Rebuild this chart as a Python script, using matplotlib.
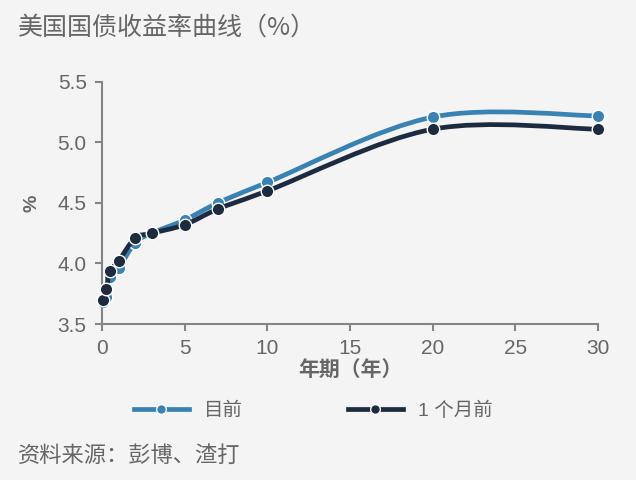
import matplotlib
matplotlib.use("Agg")
import matplotlib.pyplot as plt
from matplotlib.path import Path
from matplotlib.patches import PathPatch
from matplotlib.lines import Line2D
import numpy as np

plt.rcParams['font.family'] = ['Liberation Sans', 'Noto Sans CJK SC', 'DejaVu Sans']

# ---- data ----
maturities = [1/12, 0.25, 0.5, 1, 2, 3, 5, 7, 10, 20, 30]
current = [3.68, 3.72, 3.89, 3.96, 4.17, 4.25, 4.36, 4.50, 4.67, 5.21, 5.22]
month_ago = [3.70, 3.79, 3.94, 4.02, 4.21, 4.25, 4.32, 4.45, 4.60, 5.11, 5.11]
series_names = ["目前", "1 个月前"]
xticks = [0, 5, 10, 15, 20, 25, 30]
yticks = [3.5, 4.0, 4.5, 5.0, 5.5]
title = "美国国债收益率曲线（%）"
xlabel = "年期（年）"
ylabel = "%"
source = "资料来源：彭博、渣打"

c_light = "#3982b4"
c_dark = "#1c2b3f"
gray = "#666666"
bg = "#f4f4f4"


def smooth_path(x, y):
    # Excel-style smoothed line: cubic Bezier through the points
    pts = np.column_stack([x, y])
    n = len(pts)
    verts = [pts[0]]
    codes = [Path.MOVETO]
    for i in range(n - 1):
        p0 = pts[i - 1] if i > 0 else pts[i]
        p1 = pts[i]
        p2 = pts[i + 1]
        p3 = pts[i + 2] if i + 2 < n else pts[i + 1]
        c1 = p1 + (p2 - p0) / 6.0
        c2 = p2 - (p3 - p1) / 6.0
        verts += [c1, c2, p2]
        codes += [Path.CURVE4] * 3
    return Path(verts, codes)


fig = plt.figure(figsize=(6.36, 4.8), dpi=100, facecolor=bg)
ax = fig.add_axes([0.1604, 0.325, 0.7799, 0.5042])
ax.set_facecolor(bg)

for ys, col, z in [(current, c_light, 2), (month_ago, c_dark, 3)]:
    patch = PathPatch(smooth_path(maturities, ys), facecolor="none",
                      edgecolor=col, lw=3.4, zorder=z, capstyle="round")
    ax.add_patch(patch)
    ax.plot(maturities, ys, linestyle="none", marker="o", markersize=9,
            markerfacecolor=col, markeredgecolor="white", markeredgewidth=1.0,
            zorder=z + 0.5, clip_on=False)

ax.set_xlim(0, 30)
ax.set_ylim(3.5, 5.5)
ax.set_xticks(xticks)
ax.set_xticklabels([str(t) for t in xticks])
ax.set_yticks(yticks)
ax.set_yticklabels([f"{t:.1f}" for t in yticks])
for s in ["top", "right"]:
    ax.spines[s].set_visible(False)
for s in ["left", "bottom"]:
    ax.spines[s].set_color("#858585")
    ax.spines[s].set_linewidth(1.5)
ax.tick_params(axis="both", direction="out", length=5, width=1.5,
               color="#858585", labelcolor=gray, labelsize=15)
ax.tick_params(axis="x", pad=6)
ax.tick_params(axis="y", pad=6)

ax.set_xlabel(xlabel, fontsize=15, fontweight="bold", color=gray, labelpad=1,
              family=['Noto Sans CJK SC', 'DejaVu Sans'])
ax.set_ylabel(ylabel, fontsize=14, fontweight="bold", color=gray, labelpad=12)

fig.text(18 / 636, 1 - 28 / 480, title, fontsize=18, color=gray,
         ha="left", va="center", family=['Noto Sans CJK SC', 'DejaVu Sans'])
fig.text(18 / 636, 1 - 456 / 480, source, fontsize=16, color=gray,
         ha="left", va="center")

handles = [
    Line2D([], [], color=c_light, lw=3.4, marker="o", markersize=7,
           markerfacecolor=c_light, markeredgecolor="white", markeredgewidth=1.0),
    Line2D([], [], color=c_dark, lw=3.4, marker="o", markersize=7,
           markerfacecolor=c_dark, markeredgecolor="white", markeredgewidth=1.0),
]
leg = fig.legend(handles, series_names, loc="center left",
                 bbox_to_anchor=(120 / 636, 1 - 411 / 480), ncol=2,
                 frameon=False, fontsize=14, handlelength=2.85,
                 handletextpad=0.75, columnspacing=5.4, labelcolor=gray,
                 borderpad=0.2)

fig.savefig("out.png", dpi=100, facecolor=bg)
